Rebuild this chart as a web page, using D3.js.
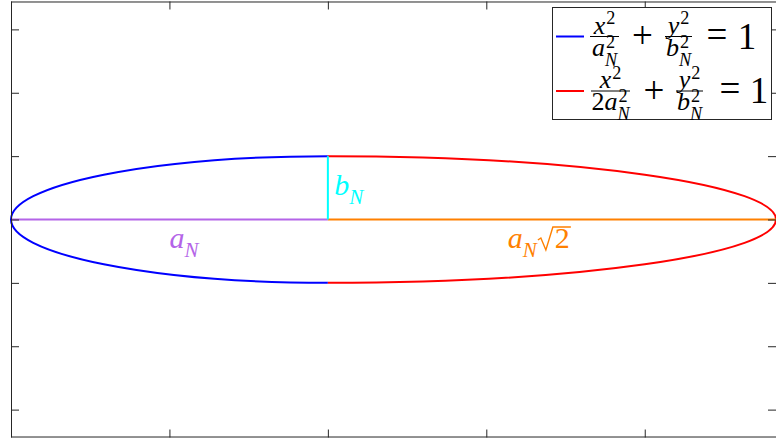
<!DOCTYPE html>
<meta charset="utf-8">
<script src="https://d3js.org/d3.v7.min.js"></script>
<style>
  body { margin: 0; background: #fff; }
</style>
<div id="chart"></div>
<script>

// semi-axes of the ellipse (a_N = 1, b_N = 0.2)
var a = 1, b = 0.2;

// tick values (no labels in the picture)
var xTicks = [-1, -0.5, 0, 0.5, 1, 1.5];
var yTicks = [-0.6, -0.4, -0.2, 0, 0.2, 0.4, 0.6];

// the two half ellipses: left x^2/a^2 + y^2/b^2 = 1, right x^2/(2a^2) + y^2/b^2 = 1
var halves = [
  {name: "left",  rx: a,               side: -1, color: "#0000ff"},
  {name: "right", rx: a * Math.SQRT2,  side:  1, color: "#ff0000"}
];

// straight segments: a_N, a_N*sqrt2, b_N
var segX0 = [-a, 0, 0];
var segY0 = [0, 0, 0];
var segX1 = [0, a * Math.SQRT2, 0];
var segY1 = [0, 0, b];
var segColors = ["#b464e8", "#ff8000", "#00ffff"];

var width = 776, height = 441;
var FONT = "'Liberation Serif', 'Times New Roman', serif";
var AXIS = "#262626";

var svg = d3.select("#chart").append("svg")
  .attr("width", width)
  .attr("height", height);

// equal aspect axes
var x = d3.scaleLinear().domain([-1, Math.SQRT2]).range([11, 776]);
var k = (776 - 11) / (Math.SQRT2 + 1);
var y = d3.scaleLinear().domain([-0.688, 0.688]).range([219.5 + 0.688 * k, 219.5 - 0.688 * k]);

var plot = svg.append("g");

// half ellipses as elliptical arcs
halves.forEach(function(h) {
  var rxp = Math.abs(x(h.rx) - x(0));
  var ryp = Math.abs(y(b) - y(0));
  var sweep = h.side > 0 ? 1 : 0;
  var d = "M" + x(0) + "," + y(b) +
    " A" + rxp + "," + ryp + " 0 0 " + sweep + " " + x(h.side * h.rx) + "," + y(0) +
    " A" + rxp + "," + ryp + " 0 0 " + sweep + " " + x(0) + "," + y(-b);
  plot.append("path")
    .attr("d", d)
    .attr("fill", "none")
    .attr("stroke", h.color)
    .attr("stroke-width", 2);
});

segX0.forEach(function(v, i) {
  plot.append("line")
    .attr("x1", x(segX0[i])).attr("y1", y(segY0[i]))
    .attr("x2", x(segX1[i])).attr("y2", y(segY1[i]))
    .attr("stroke", segColors[i])
    .attr("stroke-width", 2);
});

// frame + inward ticks
function styleAxis(g) {
  g.select(".domain").remove();
  g.selectAll("line").attr("stroke", AXIS);
}
svg.append("g").attr("transform", "translate(0," + y.range()[0] + ")")
  .call(d3.axisBottom(x).tickValues(xTicks).tickSizeInner(-8).tickSizeOuter(0).tickFormat(""))
  .call(styleAxis);
svg.append("g").attr("transform", "translate(0," + y.range()[1] + ")")
  .call(d3.axisTop(x).tickValues(xTicks).tickSizeInner(-8).tickSizeOuter(0).tickFormat(""))
  .call(styleAxis);
svg.append("g").attr("transform", "translate(" + x.range()[0] + ",0)")
  .call(d3.axisLeft(y).tickValues(yTicks).tickSizeInner(-8).tickSizeOuter(0).tickFormat(""))
  .call(styleAxis);
svg.append("g").attr("transform", "translate(" + x.range()[1] + ",0)")
  .call(d3.axisRight(y).tickValues(yTicks).tickSizeInner(-8).tickSizeOuter(0).tickFormat(""))
  .call(styleAxis);
svg.append("rect")
  .attr("x", x.range()[0] + 0.5).attr("y", y.range()[1] + 0.5)
  .attr("width", x.range()[1] - x.range()[0]).attr("height", y.range()[0] - y.range()[1] - 1)
  .attr("fill", "none").attr("stroke", AXIS).attr("stroke-width", 1);

// ---- little math typesetting helpers ----
function piece(g, px, py, str, size, italic, fill) {
  var t = g.append("text")
    .attr("x", px).attr("y", py)
    .attr("font-family", FONT)
    .attr("font-size", size)
    .attr("font-style", italic ? "italic" : "normal")
    .attr("fill", fill)
    .text(str);
  return px + t.node().getComputedTextLength();
}
// base glyph with optional stacked sup / sub
function atom(g, px, py, at, size, fill) {
  var nx = piece(g, px, py, at.t, size, at.it, fill);
  var s = size * 0.7, w = 0;
  if (at.sup) {
    var sh = at.sub ? 0.3 : 0.36;
    w = Math.max(w, piece(g, nx + (at.it ? 1 : 0), py - size * sh, at.sup, s, false, fill) - nx);
  }
  if (at.sub) w = Math.max(w, piece(g, nx, py + size * (at.sup ? 0.4 : 0.3), at.sub, s, true, fill) - nx);
  return nx + w;
}
function seq(g, px, py, atoms, size, fill) {
  atoms.forEach(function(at) { px = atom(g, px, py, at, size, fill); });
  return px;
}
function centered(g, cx, py, atoms, size, fill) {
  var tmp = g.append("g");
  var w = seq(tmp, 0, py, atoms, size, fill);
  tmp.attr("transform", "translate(" + (cx - w / 2) + ",0)");
}
function frac(g, x0, x1, barY, num, den, size, fill) {
  var cx = (x0 + x1) / 2;
  centered(g, cx, barY - 3, num, size, fill);
  centered(g, cx, barY + 19, den, size, fill);
  g.append("line").attr("x1", x0).attr("x2", x1).attr("y1", barY).attr("y2", barY)
    .attr("stroke", fill).attr("stroke-width", 1);
}

// ---- legend ----
var legendColors = ["#0000ff", "#ff0000"];
var legendDen1 = [
  [{t: "a", it: true, sup: "2", sub: "N"}],
  [{t: "2", it: false}, {t: "a", it: true, sup: "2", sub: "N"}]
];
var lg = svg.append("g");
lg.append("rect").attr("x", 552.5).attr("y", 7.5).attr("width", 219).attr("height", 112)
  .attr("fill", "#fff").attr("stroke", AXIS).attr("stroke-width", 1);

var rows = [
  {y: 36.5, f1: [590, 619], plus: 642.5, f2: [665, 692], eq: 717, one: 747},
  {y: 91,   f1: [591, 630], plus: 654,   f2: [676, 703], eq: 730, one: 759}
];
var FS = 26, MS = 37;
rows.forEach(function(r, i) {
  lg.append("line").attr("x1", 556).attr("x2", 584).attr("y1", r.y).attr("y2", r.y)
    .attr("stroke", legendColors[i]).attr("stroke-width", 2);
  frac(lg, r.f1[0], r.f1[1], r.y, [{t: "x", it: true, sup: "2"}], legendDen1[i], FS, "#000");
  lg.append("text").attr("x", r.plus).attr("y", r.y + 11.5).attr("text-anchor", "middle")
    .attr("font-family", FONT).attr("font-size", MS).text("+");
  frac(lg, r.f2[0], r.f2[1], r.y, [{t: "y", it: true, sup: "2"}], [{t: "b", it: true, sup: "2", sub: "N"}], FS, "#000");
  lg.append("text").attr("x", r.eq).attr("y", r.y + 10).attr("text-anchor", "middle")
    .attr("font-family", FONT).attr("font-size", MS).text("=");
  lg.append("text").attr("x", r.one).attr("y", r.y + 12).attr("text-anchor", "middle")
    .attr("font-family", FONT).attr("font-size", MS).text("1");
});

// ---- labels on the plot ----
var LS = 30;
var lab = svg.append("g");
seq(lab, x(-0.5), y(-0.09), [{t: "a", it: true, sub: "N"}], LS, segColors[0]);
seq(lab, x(0.02), y(0.077), [{t: "b", it: true, sub: "N"}], LS, segColors[2]);
var yb = y(-0.09);
var ex = seq(lab, x(0.568), yb, [{t: "a", it: true, sub: "N"}], LS, segColors[1]);
var sx = ex + 1;
var tx = piece(lab, sx + 17, yb, "2", LS, false, segColors[1]);
// radical sign
lab.append("path")
  .attr("d", "M" + sx + "," + (yb - 8) + " L" + (sx + 3) + "," + (yb - 10) +
    " L" + (sx + 8) + "," + (yb + 2) + " L" + (sx + 15) + "," + (yb - 21) + " L" + (tx + 1) + "," + (yb - 21))
  .attr("fill", "none").attr("stroke", segColors[1]).attr("stroke-width", 1.4)
  .attr("stroke-linejoin", "miter");

</script>
